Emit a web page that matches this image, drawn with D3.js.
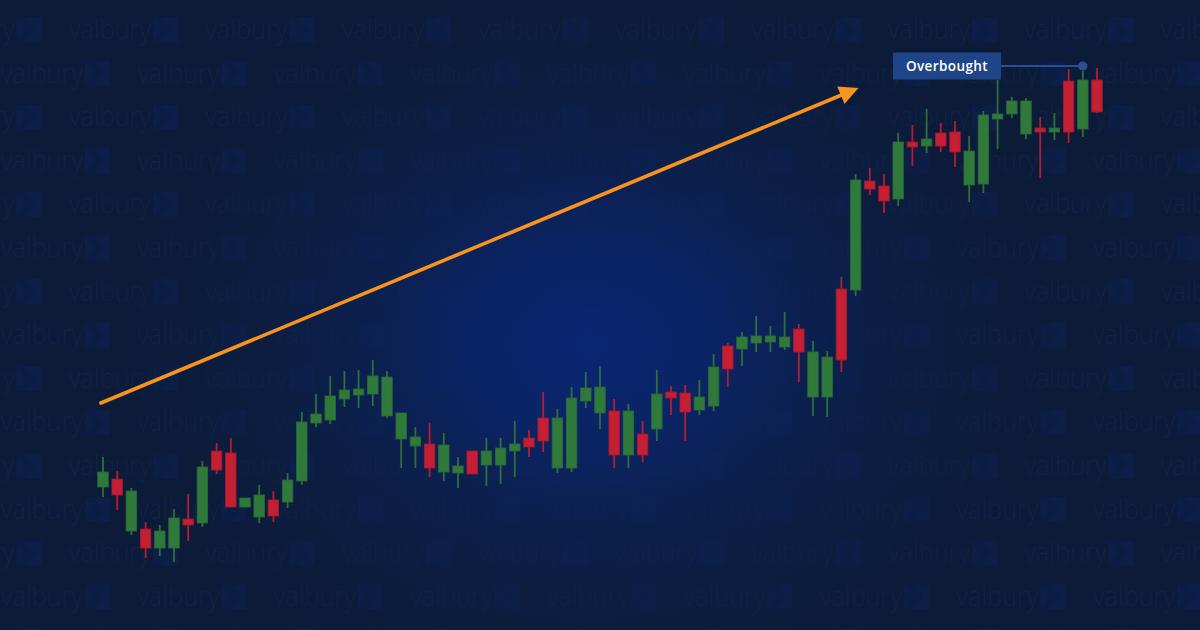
<!DOCTYPE html>
<html>
<head>
<meta charset="utf-8">
<script src="https://cdn.jsdelivr.net/npm/d3@7/dist/d3.min.js"></script>
<style>
  html, body { margin: 0; padding: 0; background: #0c1b38; }
  svg { display: block; }
</style>
</head>
<body>
<svg id="chart" width="1200" height="630"></svg>
<script>
// ---- data (price units) ----
const opens  = [143,151, 99,101, 82, 82,111,107,179,177,123,113,130,128,149,207,210,231,235,236,214,191,184,186,158,157,179,165,165,179,192,212,162,162,229,217,219,175,196,201,238,237,220,224,284,281,287,288,283,301,233,233,341,340,449,444,431,488,484,497,498,445,446,511,516,496,502,498,549,501,550];
const highs  = [173,159,142,108,105,121,136,169,187,192,132,145,139,157,218,236,254,259,260,270,259,217,203,207,197,173,179,192,192,209,200,238,221,243,258,264,231,226,209,260,244,245,250,276,287,298,314,304,318,306,289,279,353,456,462,456,497,505,521,507,509,494,519,550,533,532,513,517,561,559,562];
const lows   = [133,120, 95, 72, 74, 68, 89,103,156,123,123,107,108,122,145,203,206,223,222,224,212,162,162,153,149,142,156,144,146,153,173,178,157,158,222,201,162,162,168,189,215,189,215,219,243,264,278,278,280,248,214,213,258,334,435,417,424,464,477,478,463,428,437,481,512,491,452,490,487,493,517];
const closes = [158,135,139, 82, 99,112,105,163,160,123,132,135,114,150,208,216,234,240,241,254,253,217,193,162,185,164,156,179,182,186,183,189,212,232,242,243,175,219,175,236,232,218,233,263,261,293,294,294,293,278,278,273,270,450,441,429,488,483,491,484,478,479,515,516,529,529,498,502,498,550,518];

const trendStart = [-0.15, 227];   // [candle index, price]
const trendEnd   = [53.2, 542];
const labelText  = "Overbought";
const labelPoint = [69, 564];
const watermarkText = "valbury";

// ---- layout ----
const W = 1200, H = 630;
const svg = d3.select("#chart");
const defs = svg.append("defs");

const x = d3.scaleLinear().domain([0, opens.length - 1]).range([103, 1097]);
const y = d3.scaleLinear().domain([0, 630]).range([630, 0]);

// base background
svg.append("rect").attr("width", W).attr("height", H).attr("fill", "#0c1b38");

// watermark tiles
const wm = svg.append("g").attr("class", "watermark");
const rowStep = 43.6, colStep = 136.5;
for (let r = 0; r < 15; r++) {
  const cy = 30 + r * rowStep;
  const logo0 = (r % 2 === 0) ? 153 : 85;
  for (let c = -2; c < 10; c++) {
    const lx = logo0 + c * colStep;
    if (lx > W + 100 || lx < -40) continue;
    wm.append("text")
      .attr("x", lx - 84).attr("y", cy + 9)
      .attr("textLength", 82).attr("lengthAdjust", "spacingAndGlyphs")
      .attr("font-family", "'Open Sans', sans-serif")
      .attr("font-weight", 300).attr("font-size", 27)
      .attr("fill", "rgba(50,85,170,0.15)")
      .text(watermarkText);
    wm.append("rect")
      .attr("x", lx).attr("y", cy - 12.5).attr("width", 25).attr("height", 25)
      .attr("fill", "rgba(20,55,170,0.14)");
    wm.append("path")
      .attr("d", `M${lx},${cy - 12.5} L${lx + 7},${cy - 12.5} L${lx + 19},${cy} L${lx + 7},${cy + 12.5} L${lx},${cy + 12.5} L${lx + 9},${cy} Z`)
      .attr("fill", "rgba(10,25,60,0.3)");
  }
}

// central glow overlay (covers watermark near the middle)
const rg = defs.append("radialGradient").attr("id", "glow")
  .attr("gradientUnits", "userSpaceOnUse")
  .attr("cx", 590).attr("cy", 345).attr("r", 500)
  .attr("gradientTransform", "translate(590,345) scale(1,0.78) translate(-590,-345)");
rg.append("stop").attr("offset", "0%").attr("stop-color", "#0b2674").attr("stop-opacity", 1);
rg.append("stop").attr("offset", "25%").attr("stop-color", "#0b2466").attr("stop-opacity", 0.95);
rg.append("stop").attr("offset", "55%").attr("stop-color", "#0c2150").attr("stop-opacity", 0.6);
rg.append("stop").attr("offset", "100%").attr("stop-color", "#0c1b38").attr("stop-opacity", 0);
svg.append("rect").attr("width", W).attr("height", H).attr("fill", "url(#glow)");

// candles
const candles = opens.map((o, i) => ({ i, o, h: highs[i], l: lows[i], c: closes[i] }));
const bodyW = 10.5;
const up = { fill: "#2f7a3b", stroke: "#29683a", wick: "#2e6f3c" };
const dn = { fill: "#c41f33", stroke: "#a31b31", wick: "#b41d33" };

const g = svg.append("g").attr("class", "candles");
const cg = g.selectAll("g").data(candles).join("g");
cg.append("line")
  .attr("x1", d => x(d.i)).attr("x2", d => x(d.i))
  .attr("y1", d => y(d.h)).attr("y2", d => y(d.l))
  .attr("stroke", d => d.c >= d.o ? up.wick : dn.wick)
  .attr("stroke-width", 1.8);
cg.append("rect")
  .attr("x", d => x(d.i) - bodyW / 2)
  .attr("y", d => y(Math.max(d.o, d.c)))
  .attr("width", bodyW)
  .attr("height", d => Math.max(2, Math.abs(y(d.o) - y(d.c))))
  .attr("fill", d => d.c >= d.o ? up.fill : dn.fill)
  .attr("stroke", d => d.c >= d.o ? up.stroke : dn.stroke)
  .attr("stroke-width", 0.8);

// trend arrow
const x0 = x(trendStart[0]), y0 = y(trendStart[1]);
const x1 = x(trendEnd[0]), y1 = y(trendEnd[1]);
const ang = Math.atan2(y1 - y0, x1 - x0);
const headLen = 19, headHalf = 9.5;
const bx = x1 - headLen * Math.cos(ang), by = y1 - headLen * Math.sin(ang);
svg.append("line")
  .attr("x1", x0).attr("y1", y0).attr("x2", bx + 2 * Math.cos(ang)).attr("y2", by + 2 * Math.sin(ang))
  .attr("stroke", "#f7931e").attr("stroke-width", 3.6).attr("stroke-linecap", "round");
const px = -Math.sin(ang), py = Math.cos(ang);
svg.append("path")
  .attr("d", `M${x1},${y1} L${bx + headHalf * px},${by + headHalf * py} L${bx - headHalf * px},${by - headHalf * py} Z`)
  .attr("fill", "#f7931e");

// overbought label
const lpX = x(labelPoint[0]), lpY = y(labelPoint[1]);
const boxX = 893, boxW = 108, boxH = 27;
svg.append("line")
  .attr("x1", boxX + boxW).attr("x2", lpX).attr("y1", lpY).attr("y2", lpY)
  .attr("stroke", "#2b4f96").attr("stroke-width", 2);
svg.append("circle").attr("cx", lpX).attr("cy", lpY).attr("r", 4.6).attr("fill", "#2b4f96");
svg.append("rect")
  .attr("x", boxX).attr("y", lpY - boxH / 2).attr("width", boxW).attr("height", boxH)
  .attr("fill", "#1f4589");
svg.append("text")
  .attr("x", boxX + boxW / 2).attr("y", lpY + 4.8)
  .attr("text-anchor", "middle")
  .attr("font-family", "'Open Sans', sans-serif")
  .attr("font-weight", 600).attr("font-size", 13.5)
  .attr("letter-spacing", 0.4)
  .attr("fill", "#ffffff")
  .text(labelText);
</script>
</body>
</html>
